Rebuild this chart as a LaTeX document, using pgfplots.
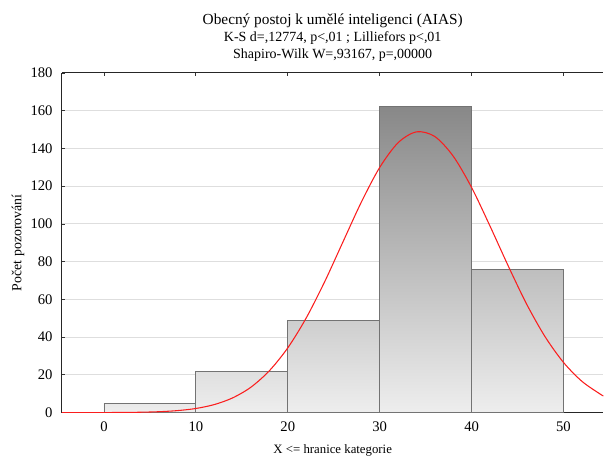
\documentclass[border=0pt]{standalone}
\usepackage{pgfplots}
\pgfplotsset{compat=1.18}
\usepackage{fontspec}
\setmainfont{Liberation Serif}
\definecolor{gridc}{RGB}{222,222,222}
\definecolor{barline}{RGB}{115,115,115}
\definecolor{bbot}{RGB}{238,238,238}
\definecolor{t1}{RGB}{233,233,233}
\definecolor{t2}{RGB}{223,223,223}
\definecolor{t3}{RGB}{206,206,206}
\definecolor{t4}{RGB}{136,136,136}
\definecolor{t5}{RGB}{190,190,190}
\definecolor{curve}{RGB}{250,30,30}
\begin{document}
\begin{tikzpicture}
\begin{axis}[
  name=ax,
  scale only axis, width=406.5pt, height=255pt,
  xmin=-4.57, xmax=54.35, ymin=0, ymax=180,
  axis x line=box, axis y line=left, axis line style={-, line width=0.8pt, black!85},
  xtick={0,10,20,30,40,50}, ytick={0,20,...,180},
  xtick pos=both, ytick pos=left, tick align=inside,
  major tick length=2.5pt, tick style={black!80, line width=0.6pt},
  ymajorgrids, grid style={gridc, line width=0.7pt},
  /pgf/number format/assume math mode=true,
  tick label style={font=\fontsize{11}{12}\selectfont},
  yticklabel style={xshift=-3.5pt},
  xticklabel style={yshift=-3pt},
  xlabel={X <= hranice kategorie},
  ylabel={Počet pozorování},
  xlabel style={font=\fontsize{9.6}{11}\selectfont, at={(axis description cs:0.5,-0.112)}, anchor=center},
  ylabel style={font=\fontsize{10.4}{12}\selectfont, at={(axis description cs:-0.0812,0.5)}, anchor=center},
]
\addplot[ybar interval, draw=barline, line width=0.6pt, top color=t1, bottom color=bbot] coordinates {(0,5) (10,5)};
\addplot[ybar interval, draw=barline, line width=0.6pt, top color=t2, bottom color=bbot] coordinates {(10,22) (20,22)};
\addplot[ybar interval, draw=barline, line width=0.6pt, top color=t3, bottom color=bbot] coordinates {(20,49) (30,49)};
\addplot[ybar interval, draw=barline, line width=0.6pt, top color=t4, bottom color=bbot] coordinates {(30,162) (40,162)};
\addplot[ybar interval, draw=barline, line width=0.6pt, top color=t5, bottom color=bbot] coordinates {(40,76) (50,76)};
\addplot[curve, line width=0.8pt, smooth, mark=none] coordinates {
(-4.57,0) (0,0.03) (2,0.09) (4,0.21) (6,0.49) (8,1.07) (10,2.19) (12,4.26)
(14,7.80) (16,13.5) (18,22.2) (20,34.3) (22,50.1) (24,69.2) (26,90.4)
(28,111.5) (30,129.9) (32,143.0) (34,148.8) (36,146.3) (38,135.9)
(40,119.3) (42,98.9) (44,77.6) (46,57.4) (48,40.2) (50,26.6) (52,16.6)
(54,9.8) (54.35,8.9)};
\end{axis}
\node[anchor=base, font=\fontsize{11.5}{13}\selectfont] at ([xshift=203.25pt, yshift=36pt]ax.north west) {Obecný postoj k umělé inteligenci (AIAS)};
\node[anchor=base, font=\fontsize{10.5}{12}\selectfont] at ([xshift=203.25pt, yshift=23.25pt]ax.north west) {K-S d=,12774, p<,01 ; Lilliefors p<,01};
\node[anchor=base, font=\fontsize{10.5}{12}\selectfont] at ([xshift=203.25pt, yshift=10.5pt]ax.north west) {Shapiro-Wilk W=,93167, p=,00000};
\path ([xshift=-46.5pt,yshift=-35.25pt]ax.south west) rectangle ([yshift=54.75pt]ax.north east);
\end{tikzpicture}
\end{document}
